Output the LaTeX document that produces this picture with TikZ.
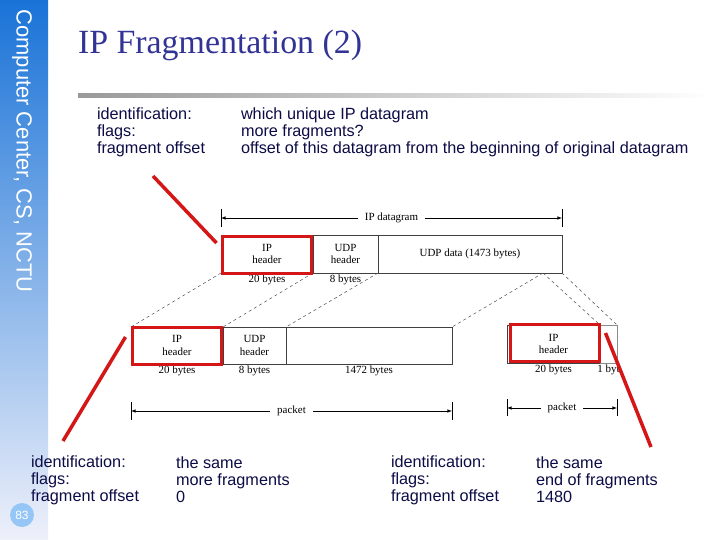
\documentclass[tikz,border=0pt]{standalone}
\usepackage{fontspec}
\setmainfont{Liberation Serif}
\setsansfont{Liberation Sans}
\usepackage{tikz}
\usetikzlibrary{arrows}
\usetikzlibrary{positioning}
\definecolor{navy}{RGB}{12,12,70}
\definecolor{titleblue}{RGB}{51,51,150}
\definecolor{hlred}{RGB}{212,22,22}
\definecolor{bartop}{RGB}{25,115,215}
\definecolor{barmid}{RGB}{180,198,238}
\definecolor{barlow}{RGB}{238,240,250}
\definecolor{dotblue}{RGB}{150,198,245}

\begin{document}
\begin{tikzpicture}[x=1bp,y=-1bp,>=latex,
    every node/.style={inner sep=0pt,outer sep=0pt},
    cell/.style={draw=black!75,line width=0.6bp,align=center,minimum height=38bp,
        font=\fontsize{11}{12.5}\selectfont},
    bytes/.style={font=\fontsize{11}{12.5}\selectfont},
    hl/.style={draw=hlred,line width=3.5bp,minimum width=89bp,minimum height=37bp},
    redline/.style={hlred,line width=3.5bp},
    cut/.style={dashed,black!70,line width=0.5bp},
    dim/.style={<->,line width=0.6bp},
    tick/.style={line width=0.6bp},
    body/.style={anchor=west,align=left,text=navy,font=\sffamily\fontsize{16.3}{17}\selectfont}]
        \useasboundingbox (0,0) rectangle (720,540);
        \fill[white] (0,0) rectangle (720,540);
        \shade[top color=bartop,middle color=barmid,bottom color=barlow] (0,0) rectangle (48,540);
        \node[rotate=-90,text=white,font=\sffamily\fontsize{22}{24}\selectfont] (S) at (22,151) {Computer Center, CS, NCTU};
        \node[circle,fill=dotblue,minimum size=24bp,text=white,font=\sffamily\fontsize{12}{14}\selectfont] (N) at (22,515) {83};

        \node[anchor=base west,text=titleblue,font=\fontsize{34}{40}\selectfont] (TI) at (78,54) {IP Fragmentation (2)};
        \shade[left color=black!40,right color=white] (78,94) rectangle (712,98);

        \node[body] (A) at (97,132) {identification:\\flags:\\fragment offset};
        \node[body] (B) at (241,132) {which unique IP datagram\\more fragments?\\offset of this datagram from the beginning of original datagram};

        \node[cell,minimum width=92bp] (H) at (267,254) {IP\\header};
        \node[cell,minimum width=65bp] (U) at (345.5,254) {UDP\\header};
        \node[cell,minimum width=184bp] (D) at (470,254) {UDP data (1473 bytes)};
        \node[bytes,below=1.5bp of H] (HB) {20 bytes};
        \node[bytes,below=1.5bp of U] (UB) {8 bytes};
        \coordinate (DL) at (221,218);
        \coordinate (DR) at (562,218);
        \draw[dim] (DL) -- node[fill=white,inner xsep=7bp,inner ysep=2bp,bytes] (DT) {IP datagram} (DR);
        \draw[tick] ([yshift=9bp]DL) -- ([yshift=-9bp]DL);
        \draw[tick] ([yshift=9bp]DR) -- ([yshift=-9bp]DR);

        \node[cell,minimum width=92bp,minimum height=37bp] (H1) at (177,345.5) {IP\\header};
        \node[cell,minimum width=63bp,minimum height=37bp] (U1) at (254.5,345.5) {UDP\\header};
        \node[cell,minimum width=166bp,minimum height=37bp] (D1) at (369,345.5) {};
        \node[bytes,below=1.5bp of H1] (H1B) {20 bytes};
        \node[bytes,below=1.5bp of U1] (U1B) {8 bytes};
        \node[bytes,below=1.5bp of D1] (D1B) {1472 bytes};
        \coordinate (PL) at (131,411);
        \coordinate (PR) at (452,411);
        \draw[dim] (PL) -- node[fill=white,inner xsep=7bp,inner ysep=2bp,bytes] (PT) {packet} (PR);
        \draw[tick] ([yshift=9bp]PL) -- ([yshift=-9bp]PL);
        \draw[tick] ([yshift=9bp]PR) -- ([yshift=-9bp]PR);

        \node[cell,minimum width=93bp] (H2) at (553.5,344) {IP\\header};
        \node[cell,minimum width=17bp,draw=black!45] (D2) at (608.5,344) {};
        \node[bytes,below=1.5bp of H2] (H2B) {20 bytes};
        \node[bytes,below=1.5bp of D2] (D2B) {1 byt};
        \coordinate (QL) at (507,408);
        \coordinate (QR) at (617,408);
        \draw[dim] (QL) -- node[fill=white,inner xsep=7bp,inner ysep=2bp,bytes] (QT) {packet} (QR);
        \draw[tick] ([yshift=9bp]QL) -- ([yshift=-8bp]QL);
        \draw[tick] ([yshift=9bp]QR) -- ([yshift=-8bp]QR);

        \coordinate (C) at (543,273);
        \draw[cut] (H.south west) -- (H1.north west);
        \draw[cut] (H.south east) -- (H1.north east);
        \draw[cut] (U.south east) -- (U1.north east);
        \draw[cut] (C) -- (D1.north east);
        \draw[cut] (C) -- (H2.north east);
        \draw[cut] (D.south east) -- (D2.north east);

        \node[hl] (R) at (267,255) {};
        \node[hl] (R1) at (177,346) {};
        \node[hl] (R2) at (555,343) {};
        \coordinate (E) at (153,176);
        \coordinate (E1) at (63,441);
        \coordinate (E2) at (651,447);
        \draw[redline] (E) -- ([xshift=-6bp,yshift=-6.5bp]R.north west);
        \draw[redline] (E1) -- ([xshift=-7bp,yshift=-9.5bp]R1.north west);
        \draw[redline] (E2) -- ([xshift=6bp,yshift=-8.5bp]R2.north east);

        \node[body] (A1) at (31,480) {identification:\\flags:\\fragment offset};
        \node[body] (B1) at (176,480) {the same\\more fragments\\0};
        \node[body] (A2) at (391,480) {identification:\\flags:\\fragment offset};
        \node[body] (B2) at (536,480) {the same\\end of fragments\\1480};
    \end{tikzpicture}
\end{document}
